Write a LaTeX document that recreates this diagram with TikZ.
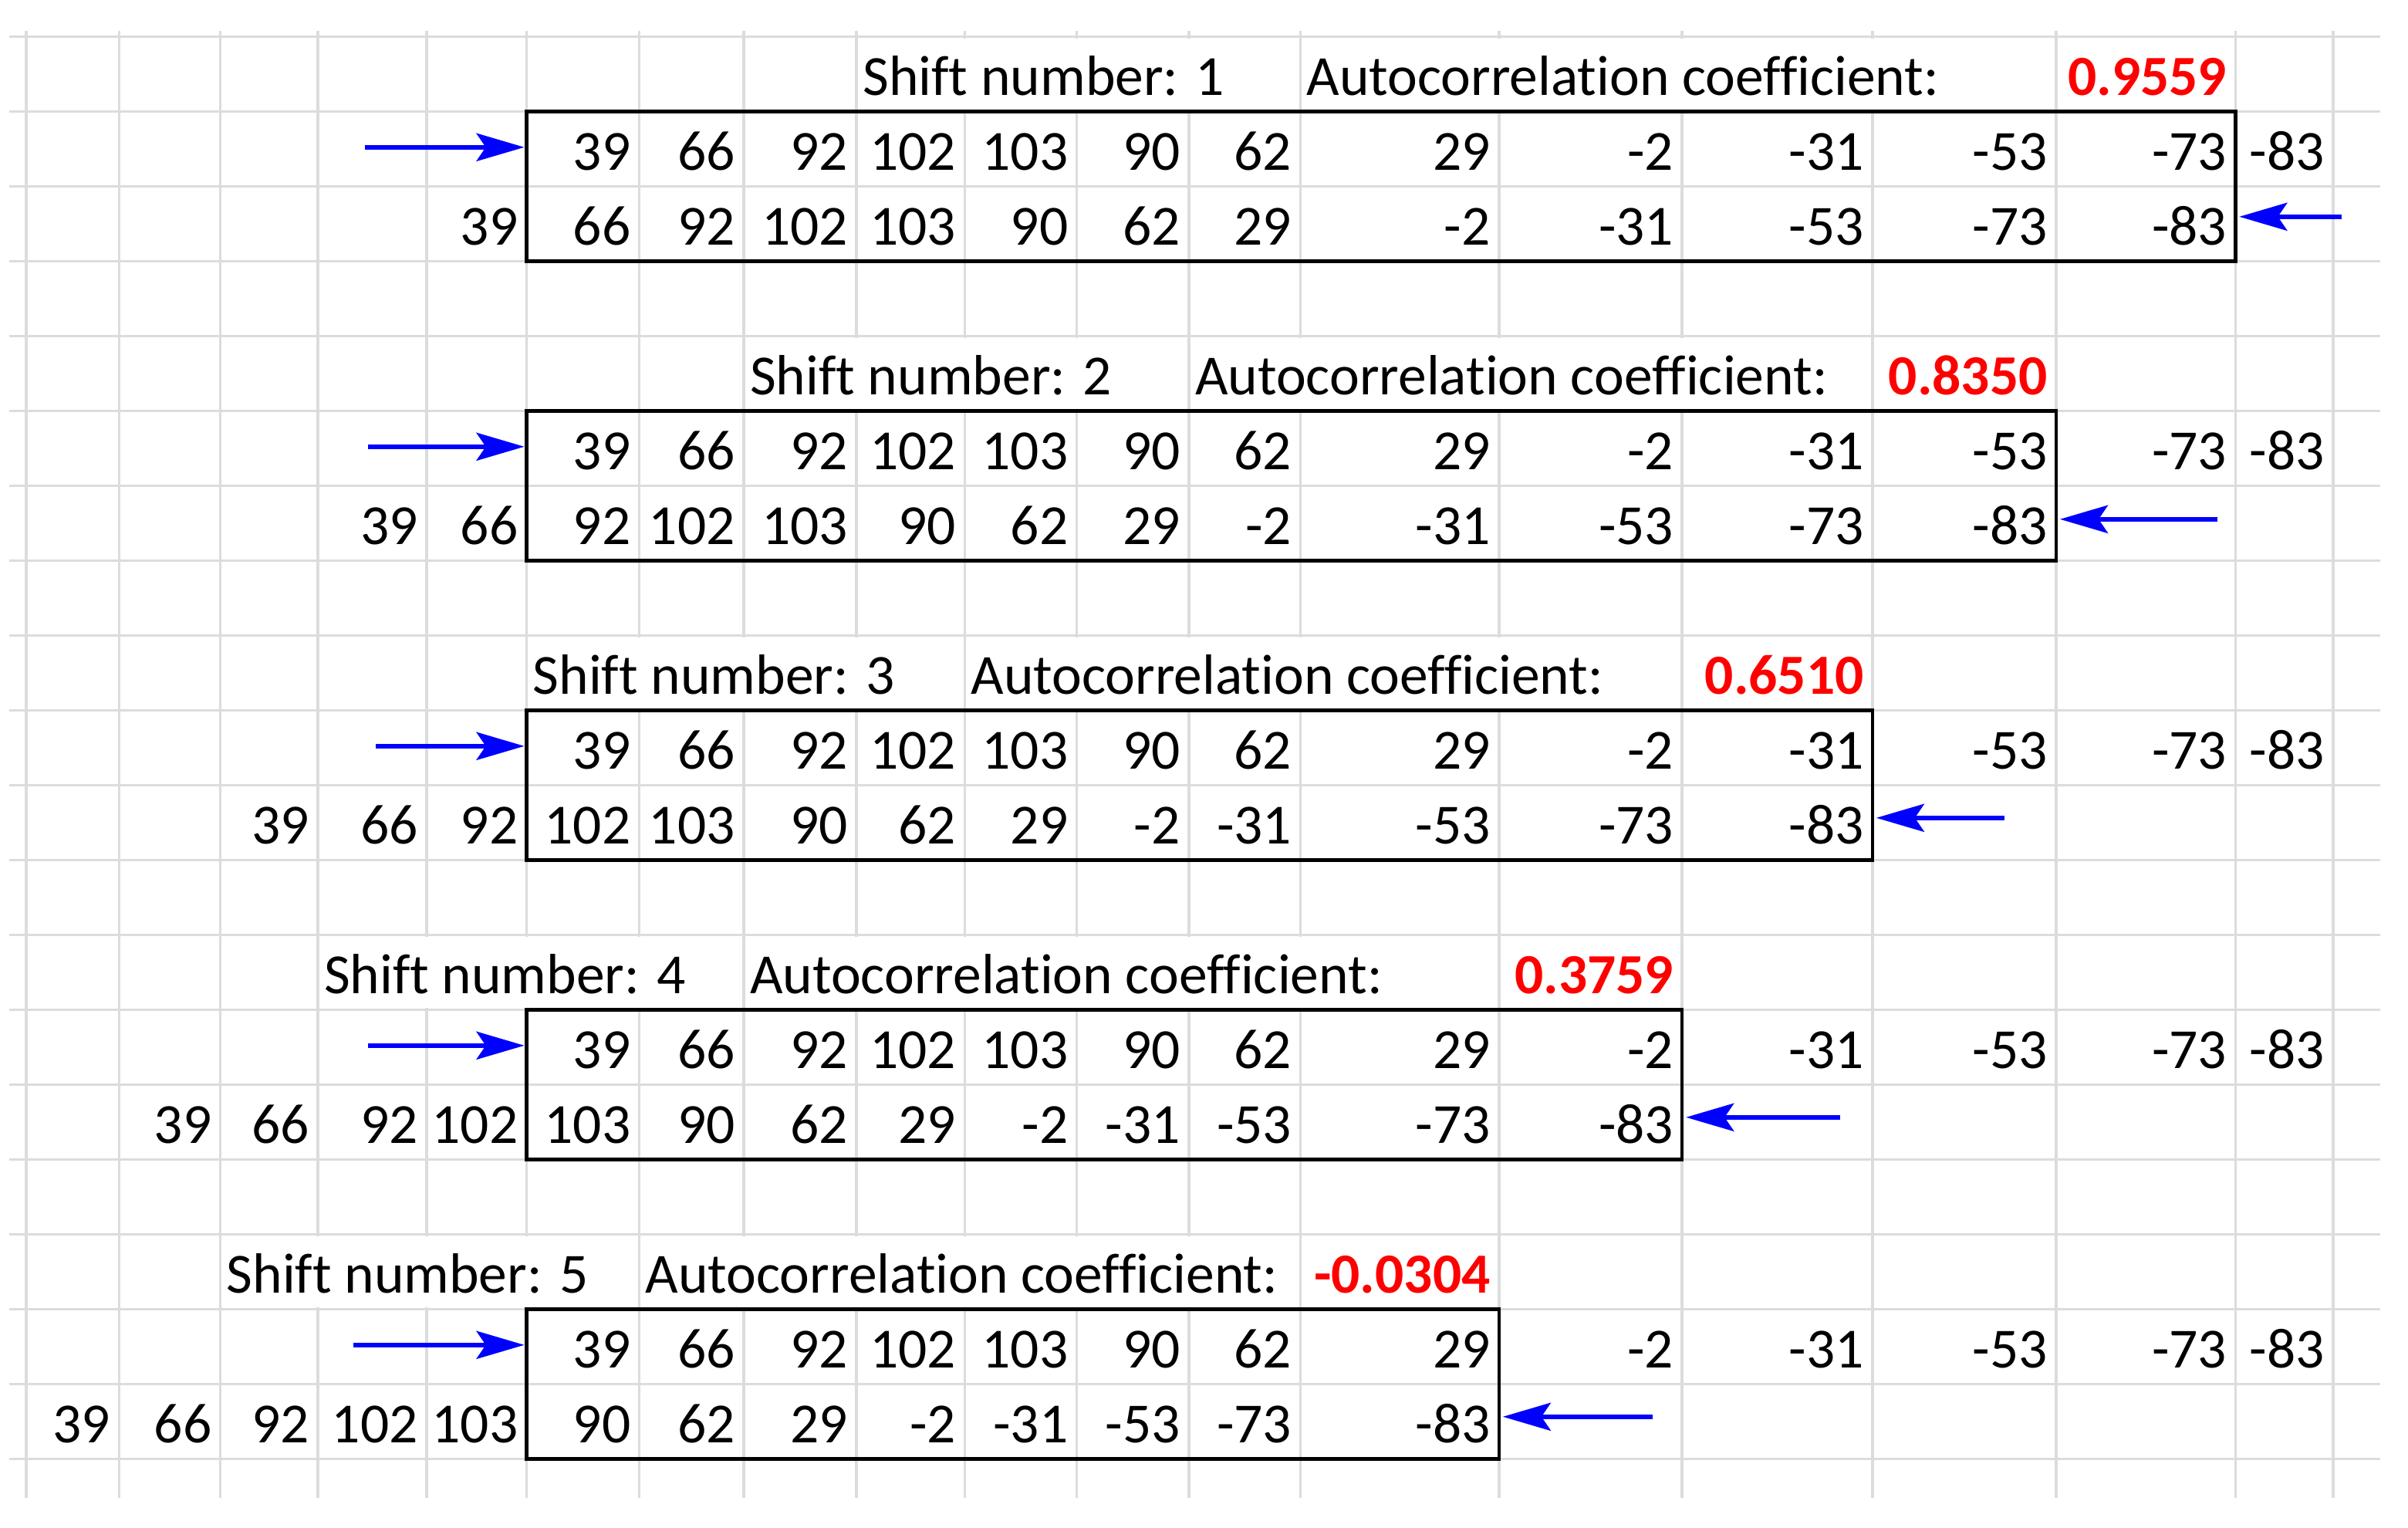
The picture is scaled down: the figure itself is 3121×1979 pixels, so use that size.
\documentclass[tikz,border=0pt]{standalone}
\usepackage{fontspec}
\setmainfont{Carlito}[Ligatures=NoCommon]
\usetikzlibrary{arrows.meta}
\definecolor{gridgray}{HTML}{DADCDD}
\definecolor{xlred}{HTML}{FF0000}
\definecolor{xlblue}{HTML}{0000FF}
\newcommand\cellfont{\fontsize{73.5}{88}\selectfont}
\def\colarr{{33.7,154.3,285.5,411.8,552.8,682.6,828.5,963.9,1110.1,1250.4,1395.6,1540.9,1685.4,1942.8,2180.2,2426.8,2664.9,2897.3,3023.9}}
\begin{document}
\begin{tikzpicture}[x=1pt,y=-1pt,
  gridline/.style={gridgray, line width=3.6pt},
  cellnum/.style={anchor=base east, inner sep=0pt, font=\cellfont},
  celltxt/.style={anchor=base west, inner sep=0pt, font=\cellfont},
  coefval/.style={anchor=base east, inner sep=0pt, text=xlred, font=\cellfont\bfseries},
  blockbox/.style={draw=black, line width=4.5pt},
  shiftarrow/.style={draw=xlblue, line width=6pt, -{Stealth[length=62pt,width=36pt,inset=12pt,fill=xlblue]}},
  hidegrid/.style={fill=white, draw=none}]
\fill[white] (0,0) rectangle (3121,1979);
\useasboundingbox (0,0) rectangle (3121,1979);
% grid
\foreach \r in {0,...,19}{
  \pgfmathsetmacro\yy{47.3+97*\r}
  \draw[gridline] (12,\yy) -- (3085,\yy);
}
\foreach \c in {0,...,18}{
  \pgfmathsetmacro\xx{\colarr[\c]}
  \draw[gridline] (\xx,40) -- (\xx,1941);
}
% blocks
\foreach \k/\sc/\ac/\cv/\rt/\lt/\ld in {1/8/12/0.9559/473/3035/9, 2/7/11/0.8350/477/2874/5, 3/5/9/0.6510/487/2598/6, 4/3/7/0.3759/477/2385/6, 5/2/6/-0.0304/458/2142/6}{
  \pgfmathsetmacro\ltop{47.3+97*(4*(\k-1))}
  \pgfmathsetmacro\lbot{\ltop+97}
  \pgfmathsetmacro\hy{\lbot-21}
  \pgfmathsetmacro\ty{\hy+97}
  \pgfmathsetmacro\by{\hy+194}
  \pgfmathsetmacro\xa{\colarr[\sc]+2.5}
  \pgfmathsetmacro\xb{\colarr[\ac]-2.5}
  \pgfmathsetmacro\xc{\colarr[\ac]+2.5}
  \pgfmathsetmacro\xd{\colarr[17-\k]-2.5}
  \fill[hidegrid] (\xa,\ltop+2.5) rectangle (\xb,\lbot-2.5);
  \fill[hidegrid] (\xc,\ltop+2.5) rectangle (\xd,\lbot-2.5);
  \pgfmathsetmacro\sx{\colarr[\sc]+8}
  \pgfmathsetmacro\ax{\colarr[\ac]+8}
  \pgfmathsetmacro\vx{\colarr[18-\k]-11}
  \node[celltxt] (sh\k) at (\sx,\hy) {Shift number: \k};
  \node[celltxt] (ac\k) at (\ax,\hy) {Autocorrelation coefficient:};
  \node[coefval] (cv\k) at (\vx,\hy) {\cv};
  \foreach \v [count=\j from 0] in {39,66,92,102,103,90,62,29,-2,-31,-53,-73,-83}{
    \pgfmathsetmacro\tx{\colarr[\j+6]-11}
    \pgfmathsetmacro\bx{\colarr[\j+6-\k]-11}
    \node[cellnum] (t\k-\j) at (\tx,\ty) {\v};
    \node[cellnum] (b\k-\j) at (\bx,\by) {\v};
  }
  \pgfmathsetmacro\bl{\colarr[5]}
  \pgfmathsetmacro\br{\colarr[18-\k]}
  \draw[blockbox] (\bl,\lbot) rectangle (\br,\lbot+194);
  \pgfmathsetmacro\ray{\lbot+48.5-2}
  \pgfmathsetmacro\lay{\lbot+145.5-\ld}
  \coordinate (rs\k) at (\rt,\ray);
  \coordinate (re\k) at (\bl-3,\ray);
  \coordinate (ls\k) at (\lt,\lay);
  \coordinate (le\k) at (\br+5,\lay);
  \draw[shiftarrow] (rs\k) -- (re\k);
  \draw[shiftarrow] (ls\k) -- (le\k);
}
\end{tikzpicture}
\end{document}
